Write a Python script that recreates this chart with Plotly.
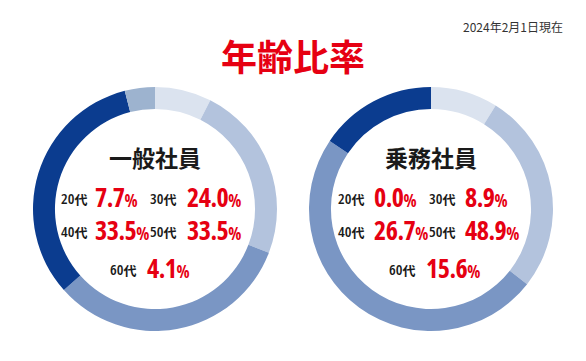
import plotly.graph_objects as go

W, H = 586, 361

categories = ["20代", "30代", "40代", "50代", "60代"]
general_values = [7.7, 24.0, 33.5, 33.5, 4.1]
crew_values = [0.0, 8.9, 26.7, 48.9, 15.6]
general_title = "一般社員"
crew_title = "乗務社員"
chart_title = "年齢比率"
date_note = "2024年2月1日現在"

general_colors = ["#dbe3ef", "#b3c3dd", "#7a96c4", "#0b3c8f", "#9db3cf"]
crew_colors = ["#dbe3ef", "#dbe3ef", "#b3c3dd", "#7a96c4", "#0b3c8f"]

RED = "#e60012"
CJK = "Noto Sans CJK JP"
NUM = "Open Sans"


def px(x):
    return x / W


def py(y):
    return 1 - y / H


fig = go.Figure()

donuts = [
    dict(values=general_values, colors=general_colors, title=general_title, cx=155, cy=209,
         col1=(89, 93), col2=(178, 185), col3=(138, 145)),
    dict(values=crew_values, colors=crew_colors, title=crew_title, cx=431, cy=209,
         col1=(366, 372), col2=(457, 463), col3=(417, 424)),
]
R = 122

annotations = []
for d in donuts:
    fig.add_trace(go.Pie(
        labels=categories, values=d["values"], sort=False, direction="clockwise",
        rotation=0, hole=0.82, marker=dict(colors=d["colors"], line=dict(width=0)),
        textinfo="none", hoverinfo="label+percent", showlegend=False,
        domain=dict(x=[px(d["cx"] - R), px(d["cx"] + R)], y=[py(d["cy"] + R), py(d["cy"] - R)]),
    ))
    annotations.append(dict(text=f"<b>{d['title']}</b>", x=px(d["cx"]), y=py(157),
                            xanchor="center", yanchor="middle", showarrow=False,
                            font=dict(family=CJK, size=23, color="#1a1a1a")))
    slots = [(d["col1"], 198), (d["col2"], 198), (d["col1"], 231), (d["col2"], 231), (d["col3"], 269)]
    for i, cat in enumerate(categories):
        (lx, vx), yy = slots[i]
        num, suffix = cat[:-1], cat[-1]
        annotations.append(dict(
            text=(f"<span style='font-family:Open Sans;font-stretch:75%;font-size:15px'>{num}</span>"
                  f"<span style='font-size:13px'>{suffix}</span>"),
            x=px(lx), y=py(yy), xanchor="right", yanchor="middle", showarrow=False,
            font=dict(family=CJK, size=14, color="#1a1a1a", weight=600)))
        annotations.append(dict(
            text=(f"<b><span style='font-stretch:75%;letter-spacing:-0.5px'>{d['values'][i]:.1f}</span>"
                  f"<span style='font-size:17px;font-stretch:75%'>%</span></b>"),
            x=px(vx), y=py(yy - 1), xanchor="left", yanchor="middle", showarrow=False,
            font=dict(family=NUM, size=26, color=RED)))

annotations.append(dict(text=f"<b>{chart_title}</b>", x=px(293), y=py(55), xanchor="center",
                        yanchor="middle", showarrow=False, font=dict(family=CJK, size=36, color=RED)))
annotations.append(dict(text=date_note, x=px(565), y=py(27), xanchor="right", yanchor="middle",
                        showarrow=False, font=dict(family=CJK, size=12, color="#333333")))

fig.update_layout(width=W, height=H, margin=dict(l=0, r=0, t=0, b=0),
                  paper_bgcolor="white", plot_bgcolor="white", annotations=annotations)

fig.write_html("out.html", config={"displayModeBar": False},
               post_script="document.body.style.margin='0px';")
